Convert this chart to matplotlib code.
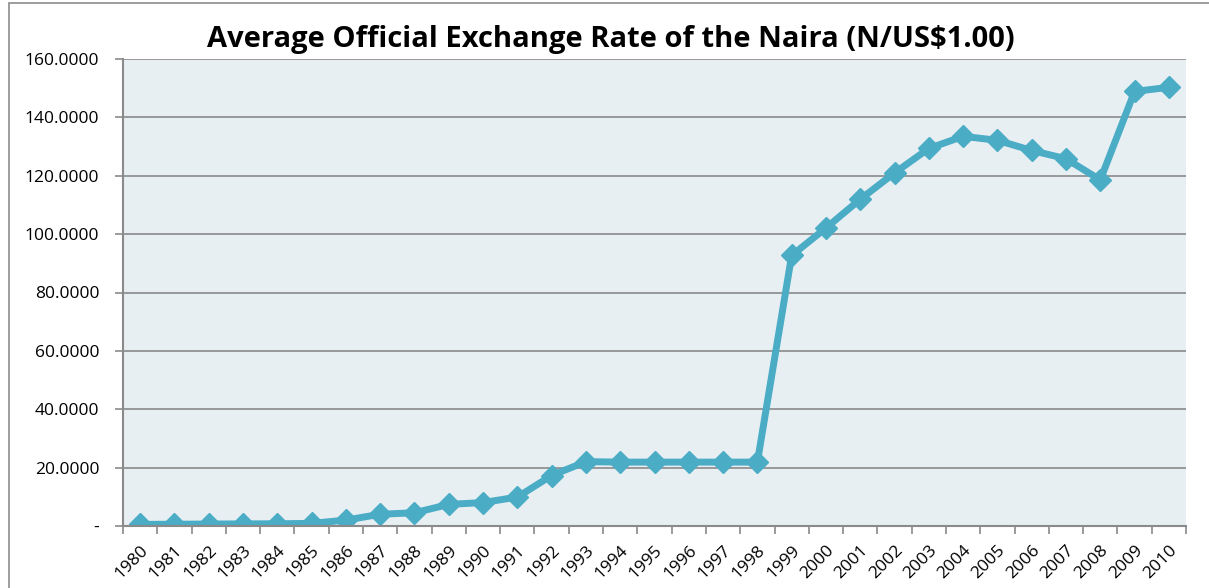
import numpy as np
import matplotlib
matplotlib.use("Agg")
import matplotlib.pyplot as plt
from matplotlib.patches import Rectangle
from matplotlib.ticker import FuncFormatter

years = [str(y) for y in range(1980, 2011)]
rates = [0.5464, 0.6100, 0.6729, 0.7241, 0.7649, 0.8938, 2.0206, 4.0179,
         4.5367, 7.3916, 8.0378, 9.9095, 17.2984, 22.0511, 21.8861, 21.8861,
         21.8861, 21.8861, 21.8861, 92.6934, 102.1052, 111.9433, 120.9702,
         129.3565, 133.5004, 132.1470, 128.6516, 125.8331, 118.5669,
         148.8802, 150.2980]

plt.rcParams['font.family'] = ['Open Sans', 'DejaVu Sans']

fig = plt.figure(figsize=(12.09, 5.88), dpi=100)
# outer chart border (Excel chart area)
fig.patches.append(Rectangle((9 / 1209, -0.05), 1.1, 1.05 - 3 / 588,
                             transform=fig.transFigure, fill=False,
                             edgecolor='#8c8c8c', linewidth=1.2))

ax = fig.add_axes([123 / 1209, 62 / 588, (1186 - 123) / 1209, (526 - 59) / 588])
ax.set_facecolor('#e8eff3')

x = np.arange(len(years))
ax.plot(x, rates, color='#4bacc6', linewidth=5, marker='D', markersize=11.5,
        markeredgecolor='#4bacc6', solid_joinstyle='round')

ax.set_xlim(-0.5, len(years) - 0.5)
ax.set_ylim(0, 160)
ax.set_yticks(np.arange(0, 161, 20))
ax.yaxis.set_major_formatter(FuncFormatter(lambda v, p: '-' if v == 0 else f'{v:.4f}'))
ax.grid(axis='y', color='#8a8a8a', linewidth=1.2)
ax.set_axisbelow(True)

ax.set_xticks(x)
ax.set_xticklabels(years, rotation=45, ha='right', va='top', rotation_mode='anchor')
ax.set_xticks(np.arange(-0.5, len(years), 1), minor=True)
ax.tick_params(axis='x', which='major', length=0, pad=12, labelsize=12.5)
ax.tick_params(axis='x', which='minor', length=6, color='#8a8a8a', width=1.2)
ax.tick_params(axis='y', length=6, color='#8a8a8a', width=1.2, labelsize=12.5, pad=11)

for s in ['top', 'right']:
    ax.spines[s].set_visible(False)
for s in ['left', 'bottom']:
    ax.spines[s].set_color('#8a8a8a')
    ax.spines[s].set_linewidth(1.5)

fig.text(0.505, 0.932, 'Average Official Exchange Rate of the Naira (N/US$1.00)',
         ha='center', va='center', fontsize=21, fontweight='bold')

fig.savefig('out.png', dpi=100)
